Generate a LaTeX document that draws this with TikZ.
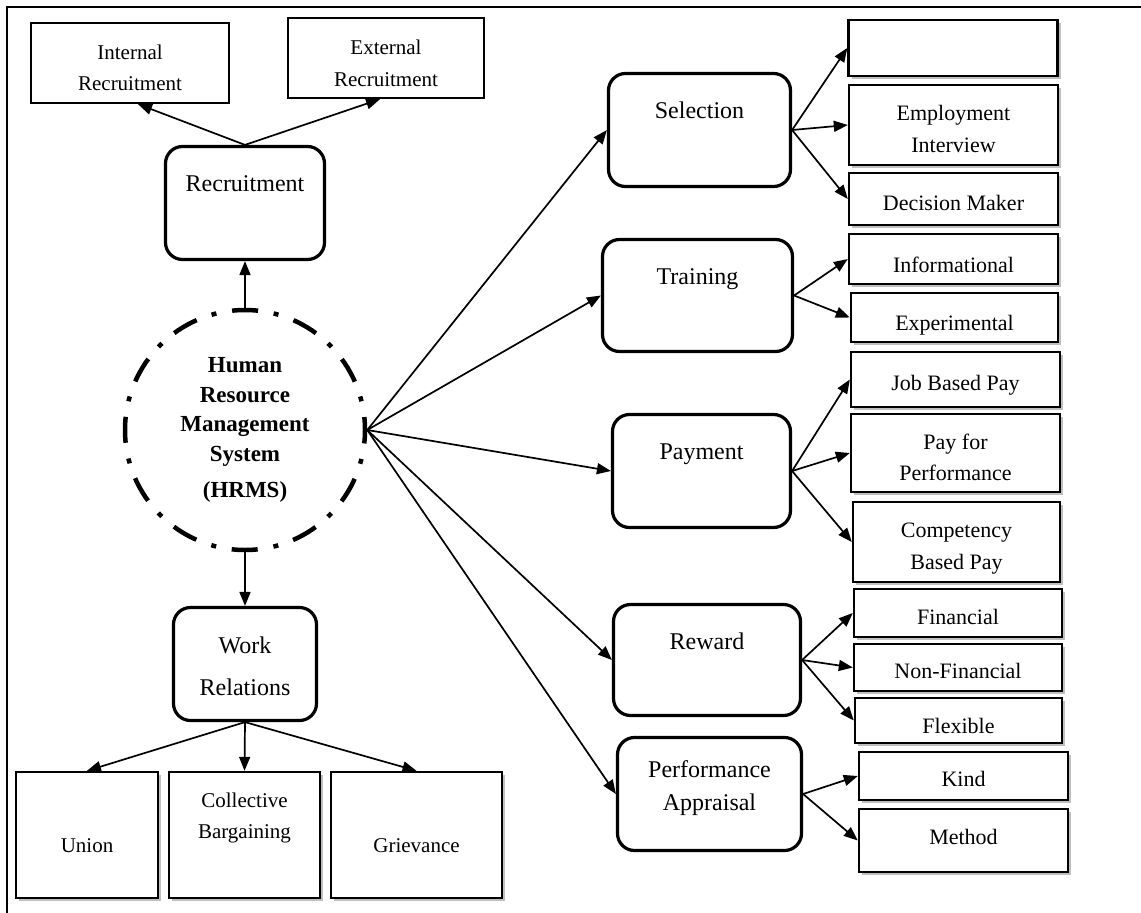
\documentclass[tikz,border=0pt]{standalone}
\usepackage{fontspec}
\setmainfont{Liberation Serif}
\usetikzlibrary{arrows.meta,shadows,calc}
\newcommand\fsz[2]{\fontsize{#1}{#2}\selectfont}

\begin{document}
\begin{tikzpicture}[x=1pt,y=-1pt,
  frame/.style={line width=2pt},
  rbox/.style={draw, rounded corners=17pt, line width=3.2pt, inner sep=0pt},
  pbox/.style={draw, line width=2.3pt, inner sep=0pt},
  sbox/.style={draw, line width=2.4pt, inner sep=0pt, fill=white,
    drop shadow={shadow xshift=3pt, shadow yshift=-3pt, fill=black!25, opacity=1}},
  hub/.style={circle, draw, line width=4.5pt,
    dash pattern=on 26pt off 16pt on 5pt off 15.8pt, dash phase=13pt,
    minimum size=240pt, inner sep=0pt, align=center,
    font=\bfseries\fsz{23}{29.5}},
  arr/.style={line width=1.7pt, -{Triangle[length=14pt,width=11pt]}},
  txt/.style={inner sep=0pt, align=center, anchor=base},
  rtxt/.style={txt, font=\fsz{24}{33}},
  stxt/.style={txt, font=\fsz{22}{32}},
  btxt/.style={txt, font=\fsz{21}{31}},
]
\useasboundingbox (0,0) rectangle (1141,913);

% outer frame (top and left edges)
\coordinate (tl) at (7,7);
\coordinate (tr) at (1141,7);
\coordinate (bl) at (7,913);
\draw[frame] (tr) -- (tl) -- (bl);

% central hub
\node[hub] (hub) at (245,430) {Human\\Resource\\Management\\System\\[6.5pt](HRMS)};

% recruitment branch (multi-line labels are placed by their last baseline)
\node[rbox, minimum width=159pt, minimum height=113pt] (rec) at (245,203) {};
\node[rtxt] (t-rec) at (245,191) {Recruitment};
\node[pbox, minimum width=198pt, minimum height=80pt] (int) at (130,63) {};
\node[btxt] (t-int) at (130,90) {Internal\\Recruitment};
\node[pbox, minimum width=196pt, minimum height=80pt] (ext) at (386,58) {};
\node[btxt, font=\fsz{21}{32}] (t-ext) at (386,86) {External\\Recruitment};

% work relations branch
\node[rbox, minimum width=143pt, minimum height=113pt] (wr) at (245,664) {};
\node[rtxt, font=\fsz{24}{42}] (t-wr) at (245,695) {Work\\Relations};
\node[sbox, minimum width=142pt, minimum height=126pt] (uni) at (87,835) {};
\node[btxt] (t-uni) at (87,852) {Union};
\node[sbox, minimum width=151pt, minimum height=126pt] (col) at (244.5,835) {};
\node[btxt] (t-col) at (244.5,838) {Collective\\Bargaining};
\node[sbox, minimum width=171pt, minimum height=126pt] (grv) at (416.5,835) {};
\node[btxt] (t-grv) at (416.5,852) {Grievance};

% main functions
\node[rbox, minimum width=182pt, minimum height=113pt] (sel) at (699.5,130) {};
\node[rtxt] (t-sel) at (699.5,118) {Selection};
\node[rbox, minimum width=190pt, minimum height=112pt] (trn) at (697.5,295.5) {};
\node[rtxt] (t-trn) at (697.5,284) {Training};
\node[rbox, minimum width=178pt, minimum height=113pt] (pay) at (701.5,471) {};
\node[rtxt] (t-pay) at (701.5,459) {Payment};
\node[rbox, minimum width=187pt, minimum height=111pt] (rew) at (707,660) {};
\node[rtxt] (t-rew) at (707,649) {Reward};
\node[rbox, minimum width=184pt, minimum height=113pt] (pa) at (709.5,794) {};
\node[rtxt] (t-pa) at (709.5,810) {Performance\\Appraisal};

% sub-items
\node[sbox, minimum width=209pt, minimum height=56pt] (blk) at (953,48) {};
\node[sbox, minimum width=209pt, minimum height=80pt] (emp) at (953.5,125) {};
\node[stxt] (t-emp) at (953.5,152) {Employment\\Interview};
\node[sbox, minimum width=209pt, minimum height=52pt] (dec) at (953.5,199) {};
\node[stxt] (t-dec) at (953.5,210) {Decision Maker};
\node[sbox, minimum width=209pt, minimum height=50pt] (inf) at (953.5,259) {};
\node[stxt] (t-inf) at (953.5,272) {Informational};
\node[sbox, minimum width=207pt, minimum height=49pt] (exq) at (954.5,317.5) {};
\node[stxt] (t-exq) at (954.5,330) {Experimental};
\node[sbox, minimum width=209pt, minimum height=55pt] (job) at (955.5,379.5) {};
\node[stxt] (t-job) at (955.5,390) {Job Based Pay};
\node[sbox, minimum width=209pt, minimum height=78pt] (pfp) at (955.5,453) {};
\node[stxt, font=\fsz{22}{31}] (t-pfp) at (955.5,480) {Pay for\\Performance};
\node[sbox, minimum width=207pt, minimum height=80pt] (cbp) at (956.5,542) {};
\node[stxt] (t-cbp) at (956.5,569) {Competency\\Based Pay};
\node[sbox, minimum width=208pt, minimum height=48pt] (fin) at (958,613) {};
\node[stxt] (t-fin) at (958,624) {Financial};
\node[sbox, minimum width=208pt, minimum height=47pt] (nfi) at (958,667.5) {};
\node[stxt] (t-nfi) at (958,678) {Non-Financial};
\node[sbox, minimum width=207pt, minimum height=45pt] (flx) at (958.5,720.5) {};
\node[stxt] (t-flx) at (958.5,733) {Flexible};
\node[sbox, minimum width=209pt, minimum height=48pt] (knd) at (963.5,776) {};
\node[stxt] (t-knd) at (963.5,786) {Kind};
\node[sbox, minimum width=209pt, minimum height=63pt] (met) at (963.5,840.5) {};
\node[stxt] (t-met) at (963.5,844) {Method};

% connectors
\draw[arr] (hub.north) -- (rec.south);
\draw[arr] (rec.north) -- ($(int.south west)!.54!(int.south east)$);
\draw[arr] (rec.north) -- ($(ext.south west)!.47!(ext.south east)$);
\draw[arr] (hub.south) -- (wr.north);
\foreach \t in {uni,col,grv} \draw[arr] (wr.south) -- (\t.north);
\foreach \t in {sel,trn,pay,rew,pa} \draw[arr] (hub.east) -- (\t.west);
\foreach \t in {blk,emp,dec} \draw[arr] (sel.east) -- (\t.west);
\foreach \t in {inf,exq} \draw[arr] (trn.east) -- (\t.west);
\foreach \t in {job,pfp,cbp} \draw[arr] (pay.east) -- (\t.west);
\foreach \t in {fin,nfi,flx} \draw[arr] (rew.east) -- (\t.west);
\foreach \t in {knd,met} \draw[arr] (pa.east) -- (\t.west);
\end{tikzpicture}
\end{document}
